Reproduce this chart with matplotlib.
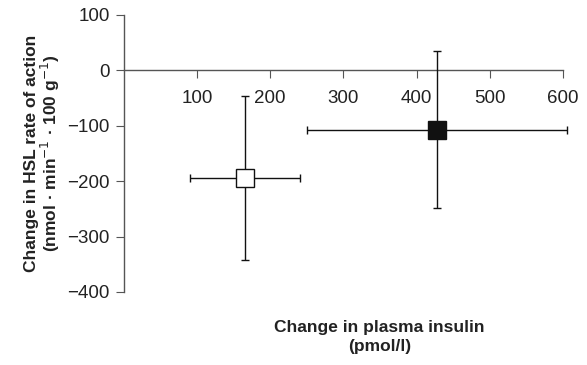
import matplotlib
matplotlib.use('Agg')
import matplotlib.pyplot as plt

plt.rcParams['font.family'] = ['Liberation Sans', 'DejaVu Sans']

######################### Data #########################

groups = ['open', 'filled']
insulin = [166, 428]
insulin_err = [75, 178]
hsl = [-194, -107]
hsl_err = [148, 142]
face_colors = ['white', '#111111']

xticks = [100, 200, 300, 400, 500, 600]
yticks = [100, 0, -100, -200, -300, -400]

######################### Plot #########################

fig = plt.figure(figsize=(5.87, 3.65), dpi=100)
ax = fig.add_axes([0.211, 0.2, 0.748, 0.759])

for i in range(len(groups)):
    ax.errorbar(insulin[i], hsl[i], xerr=insulin_err[i], yerr=hsl_err[i],
                fmt='s', ms=13, mfc=face_colors[i], mec='#111111', mew=1.0,
                ecolor='#111111', elinewidth=1.0, capsize=3, capthick=1.0,
                clip_on=False, zorder=3)

ax.set_xlim(0, 600)
ax.set_ylim(-400, 100)

ax.spines['top'].set_visible(False)
ax.spines['right'].set_visible(False)
ax.spines['bottom'].set_position(('data', 0))
for s in ['left', 'bottom']:
    ax.spines[s].set_color('#555555')
    ax.spines[s].set_linewidth(1.0)

ax.set_xticks(xticks)
ax.set_yticks(yticks)
ax.tick_params(axis='x', direction='in', length=6, pad=14, color='#555555',
               labelsize=13.5, labelcolor='#222222')
ax.tick_params(axis='y', direction='out', length=6, pad=4, color='#555555',
               labelsize=13.5, labelcolor='#222222')
# x ticks point downward from the zero line
for t in ax.xaxis.get_major_ticks():
    t.tick1line.set_marker(3)

ax.set_ylabel('Change in HSL rate of action\n(nmol \u00b7 min$^{-1}$ \u00b7 100 g$^{-1}$)',
              fontsize=12.5, fontweight='bold', labelpad=4, color='#222222',
              linespacing=1.0)

fig.text(0.646, 0.077, 'Change in plasma insulin\n(pmol/l)', ha='center',
         va='center', fontsize=12.5, fontweight='bold', color='#222222',
         linespacing=1.35)

plt.savefig('out.png', dpi=100)
